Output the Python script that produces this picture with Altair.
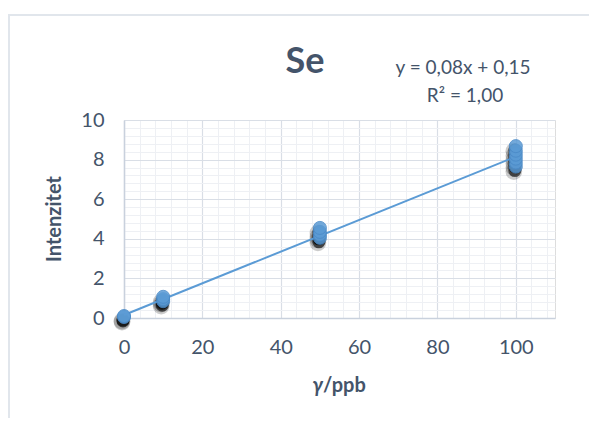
import altair as alt
import pandas as pd

# ---- data ----
conc_x = [0, 0, 10, 10, 10, 50, 50, 50, 50, 100, 100, 100, 100, 100, 100]
intensity_y = [0.05, 0.1, 0.85, 0.95, 1.07, 4.05, 4.2, 4.35, 4.55, 7.65, 7.85, 8.05, 8.25, 8.45, 8.68]
trend_x = [0, 100]
trend_y = [0.15, 8.15]
x_major = [0, 20, 40, 60, 80, 100]
y_major = [0, 2, 4, 6, 8, 10]
x_minor = [0, 4, 8, 12, 16, 20, 24, 28, 32, 36, 40, 44, 48, 52, 56, 60, 64, 68, 72, 76, 80, 84, 88, 92, 96, 100, 104, 108]
y_minor = [0, 0.4, 0.8, 1.2, 1.6, 2, 2.4, 2.8, 3.2, 3.6, 4, 4.4, 4.8, 5.2, 5.6, 6, 6.4, 6.8, 7.2, 7.6, 8, 8.4, 8.8, 9.2, 9.6, 10]
title_text = ["Se"]
eq_text = ["y = 0,08x + 0,15"]
r2_text = ["R² = 1,00"]
y_title = ["Intenzitet"]
x_title_sym = ["γ"]
x_title_unit = ["/ppb"]

FONT = "Lato"
INK = "#44546A"
W, H = 431, 198
pts = pd.DataFrame({"x": conc_x, "y": intensity_y})
trend = pd.DataFrame({"x": trend_x, "y": trend_y})

xs = alt.Scale(domain=[0, 110], nice=False, zero=False)
ys = alt.Scale(domain=[0, 10], nice=False, zero=False)

minor_axis_x = alt.Axis(values=x_minor, grid=True, gridColor="#EEF0F4", gridWidth=1,
                        labels=False, ticks=False, domain=False, title=None,
                        orient="bottom", zindex=0)
minor_axis_y = alt.Axis(values=y_minor, grid=True, gridColor="#EEF0F4", gridWidth=1,
                        labels=False, ticks=False, domain=False, title=None,
                        orient="left", zindex=0)

major_axis_x = alt.Axis(values=x_major, grid=True, gridColor="#D9DEE6", gridWidth=1.2,
                        ticks=False, tickSize=0, domain=True, domainColor="#C9D1DD",
                        domainWidth=1.5, labelPadding=19, labelFontSize=20,
                        labelFont=FONT, labelColor=INK, title=None,
                        orient="bottom", zindex=0, labelBaseline="top", labelFlush=False)
major_axis_y = alt.Axis(values=y_major, grid=True, gridColor="#D9DEE6", gridWidth=1.2,
                        ticks=False, tickSize=0, domain=True, domainColor="#C9D1DD",
                        domainWidth=1.5, labelPadding=20, labelFontSize=20,
                        labelFont=FONT, labelColor=INK, title=None,
                        orient="left", zindex=0, labelFlush=False)

minor = alt.Chart(trend).mark_line(opacity=0).encode(
    x=alt.X("x:Q", scale=xs, axis=minor_axis_x),
    y=alt.Y("y:Q", scale=ys, axis=minor_axis_y),
)

major = alt.Chart(trend).mark_line(opacity=0).encode(
    x=alt.X("x:Q", scale=xs, axis=major_axis_x),
    y=alt.Y("y:Q", scale=ys, axis=major_axis_y),
)

base = alt.Chart(pts).encode(
    x=alt.X("x:Q", scale=xs, axis=None),
    y=alt.Y("y:Q", scale=ys, axis=None),
)

shadow_outer = base.mark_circle(size=280, color="black", opacity=0.2, xOffset=-2, yOffset=5)
shadow_inner = base.mark_circle(size=170, color="black", opacity=0.6, xOffset=-1, yOffset=4)

line = alt.Chart(trend).mark_line(color="#5B9BD5", strokeWidth=2).encode(
    x=alt.X("x:Q", scale=xs, axis=None), y=alt.Y("y:Q", scale=ys, axis=None))

points = base.mark_circle(size=170, color="#5B9BD5", opacity=0.85, stroke="#4A8AC8", strokeWidth=1)

def label(txt, x, y, size, bold=False, italic=False, color=INK, align="center", angle=0):
    kw = dict(font=FONT, fontSize=size, color=color, align=align, baseline="middle")
    if bold:
        kw["fontWeight"] = "bold"
    if italic:
        kw["fontStyle"] = "italic"
    if angle:
        kw["angle"] = angle
    return alt.Chart(pd.DataFrame({"t": txt})).mark_text(**kw).encode(
        x=alt.value(x), y=alt.value(y), text="t:N")

t_title = label(title_text, 181, -58, 36, bold=True)
t_eq = label(eq_text, 339, -52, 19)
t_r2 = label(r2_text, 341, -24, 19)
t_ytitle = label(y_title, -69, 99, 20, bold=True, angle=270)
t_xsym = label(x_title_sym, 199, 266, 20, bold=True, italic=True, align="right")
t_xunit = label(x_title_unit, 199, 266, 20, bold=True, align="left")

frame_df = pd.DataFrame({"k": [1]})
frame_left = alt.Chart(frame_df).mark_rule(color="#E1E6EC", strokeWidth=2).encode(
    x=alt.value(-115), y=alt.value(-105), y2=alt.value(310))
frame_top = alt.Chart(frame_df).mark_rule(color="#E1E6EC", strokeWidth=2).encode(
    x=alt.value(-116), x2=alt.value(470), y=alt.value(-105))

chart = alt.layer(
    minor, major, frame_left, frame_top, shadow_outer, shadow_inner, line, points,
    t_title, t_eq, t_r2, t_ytitle, t_xsym, t_xunit,
).resolve_axis(x="independent", y="independent").properties(
    width=W, height=H,
    autosize=alt.AutoSizeParams(type="none"),
    padding={"left": 116, "top": 112, "right": 34, "bottom": 100},
).configure_view(stroke=None).configure(background="white")

chart.save("out.html", embed_options={"renderer": "svg", "actions": False})
